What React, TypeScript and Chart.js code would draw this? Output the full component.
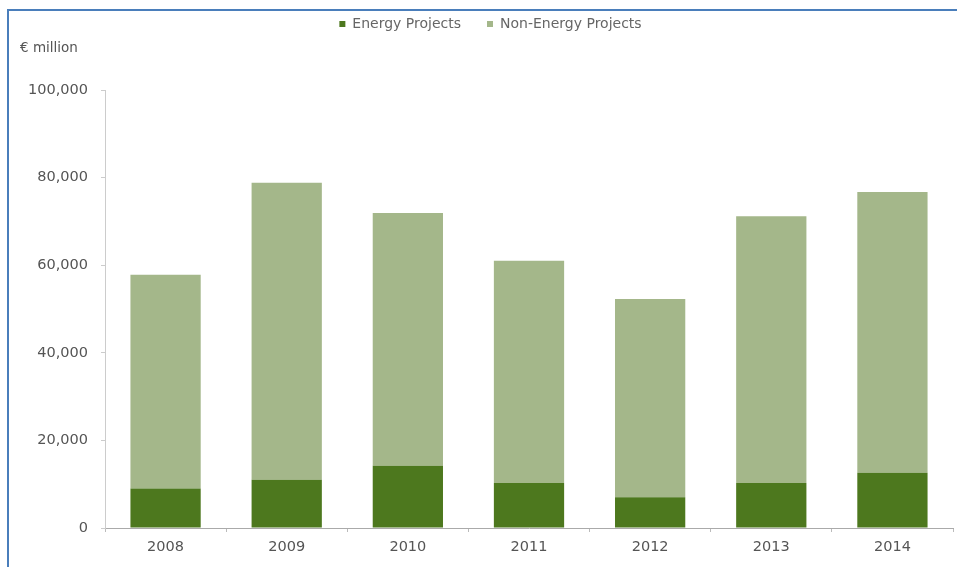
import React, { useEffect, useRef } from "react";
import { Chart, registerables } from "chart.js";

Chart.register(...registerables);

const categories = ["2008", "2009", "2010", "2011", "2012", "2013", "2014"];
const energyProjects = [9000, 11000, 14200, 10300, 7000, 10300, 12600];
const nonEnergyProjects = [48800, 67800, 57700, 50700, 45300, 60900, 64100];
const seriesNames = ["Energy Projects", "Non-Energy Projects"];
const unitLabel = "€ million";

const FONT = "'DejaVu Sans', Verdana, sans-serif";

export default function App() {
  const ref = useRef<HTMLCanvasElement | null>(null);

  useEffect(() => {
    if (!ref.current) return;
    const legendTweak = {
      id: "legendTweak",
      beforeInit(chart: any) {
        const lg = chart.legend;
        if (!lg) return;
        const orig = lg.fit;
        lg.fit = function () {
          orig.call(this);
          this.height = 90;
        };
      },
      afterLayout(chart: any) {
        const lg = chart.legend;
        if (!lg) return;
        lg.left += 14;
        lg.right += 14;
        lg.top -= 9;
        lg.bottom -= 9;
      },
    };
    const chart = new Chart(ref.current, {
      type: "bar",
      data: {
        labels: categories,
        datasets: [
          {
            label: seriesNames[0],
            data: energyProjects,
            backgroundColor: "#4d781e",
            barPercentage: 0.58,
            categoryPercentage: 1,
          },
          {
            label: seriesNames[1],
            data: nonEnergyProjects,
            backgroundColor: "#a4b78a",
            barPercentage: 0.58,
            categoryPercentage: 1,
          },
        ],
      },
      options: {
        animation: false,
        responsive: true,
        maintainAspectRatio: false,
        layout: { padding: { left: 0, right: 4, top: 0, bottom: 0 } },
        plugins: {
          tooltip: { enabled: false },
          legend: {
            position: "top",
            align: "center",
            labels: {
              boxWidth: 6,
              boxHeight: 6,
              padding: 26,
              color: "#666",
              font: { family: FONT, size: 14 },
            },
          },
        },
        scales: {
          x: {
            stacked: true,
            afterFit(s: any) {
              s.height = 39;
            },
            grid: {
              offset: true,
              drawOnChartArea: false,
              drawTicks: true,
              tickLength: 4,
              color: "#bbb",
            },
            border: { color: "#aaa", width: 1 },
            ticks: {
              color: "#555",
              padding: 7,
              font: { family: FONT, size: 14.5 },
            },
          },
          y: {
            stacked: true,
            min: 0,
            max: 100000,
            afterFit(s: any) {
              s.width = 105;
            },
            grid: {
              drawOnChartArea: false,
              drawTicks: true,
              tickLength: 4,
              color: "#ccc",
            },
            border: { color: "#ccc", width: 1 },
            ticks: {
              stepSize: 20000,
              color: "#555",
              padding: 13,
              font: { family: FONT, size: 14.5 },
              callback: (v: any) => Number(v).toLocaleString("en-US"),
            },
          },
        },
      },
      plugins: [legendTweak],
    });
    return () => chart.destroy();
  }, []);

  return (
    <div
      style={{
        position: "fixed",
        left: 0,
        top: 0,
        width: "957px",
        height: "567px",
        overflow: "hidden",
        background: "#fff",
      }}
    >
      <div style={{ position: "absolute", left: 0, top: 0, width: 957, height: 567 }}>
        <canvas ref={ref} />
      </div>
      <div
        style={{
          position: "absolute",
          left: 7,
          top: 9,
          width: 2,
          height: 558,
          background: "#4a7ebb",
          pointerEvents: "none",
        }}
      />
      <div
        style={{
          position: "absolute",
          left: 7,
          top: 9,
          width: 950,
          height: 2,
          background: "#4a7ebb",
          pointerEvents: "none",
        }}
      />
      <div
        style={{
          position: "absolute",
          left: 20,
          top: 39,
          fontFamily: FONT,
          fontSize: 13.5,
          color: "#555",
          lineHeight: "16px",
          whiteSpace: "nowrap",
        }}
      >
        {unitLabel}
      </div>
    </div>
  );
}
